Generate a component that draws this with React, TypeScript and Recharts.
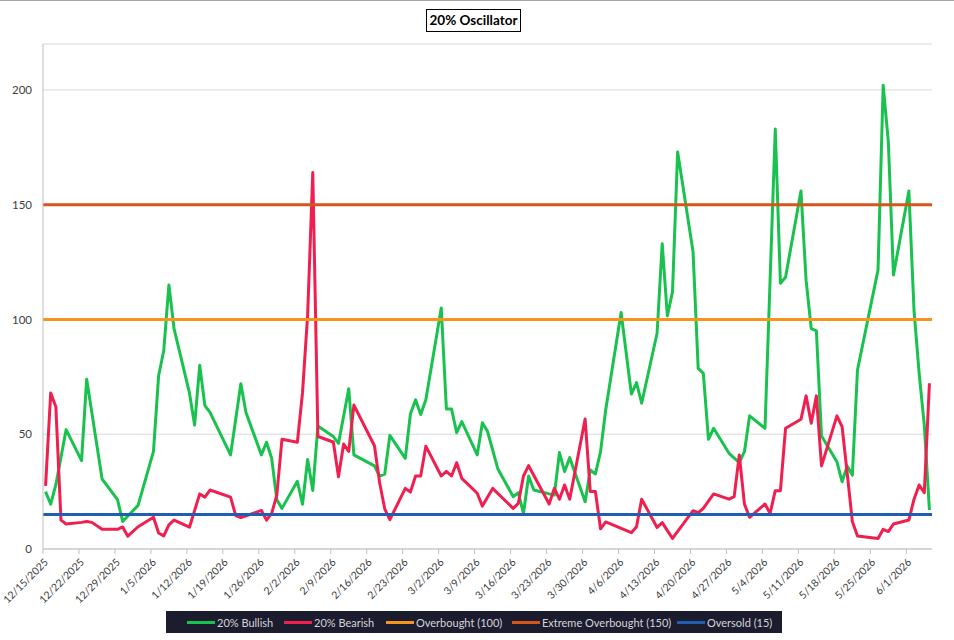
import React from "react";
import { LineChart, Line, XAxis, YAxis, CartesianGrid } from "recharts";

// readings of the two oscillator series (trading days with a visible vertex)
const bullishDates = [
  "12/15/2025", "12/16/2025", "12/17/2025", "12/19/2025", "12/22/2025", "12/23/2025", "12/26/2025",
  "12/29/2025", "12/30/2025", "1/2/2026", "1/5/2026", "1/6/2026", "1/7/2026", "1/8/2026", "1/9/2026",
  "1/12/2026", "1/13/2026", "1/14/2026", "1/15/2026", "1/16/2026", "1/20/2026", "1/22/2026", "1/23/2026",
  "1/26/2026", "1/27/2026", "1/28/2026", "1/29/2026", "1/30/2026", "2/2/2026", "2/3/2026", "2/4/2026",
  "2/5/2026", "2/6/2026", "2/9/2026", "2/10/2026", "2/12/2026", "2/13/2026", "2/17/2026", "2/18/2026",
  "2/19/2026", "2/20/2026", "2/23/2026", "2/24/2026", "2/25/2026", "2/26/2026", "2/27/2026", "3/2/2026",
  "3/3/2026", "3/4/2026", "3/5/2026", "3/6/2026", "3/9/2026", "3/10/2026", "3/11/2026", "3/13/2026",
  "3/16/2026", "3/17/2026", "3/18/2026", "3/19/2026", "3/20/2026", "3/23/2026", "3/24/2026", "3/25/2026",
  "3/26/2026", "3/27/2026", "3/30/2026", "3/31/2026", "4/1/2026", "4/2/2026", "4/3/2026", "4/6/2026",
  "4/8/2026", "4/9/2026", "4/10/2026", "4/13/2026", "4/14/2026", "4/15/2026", "4/16/2026", "4/17/2026",
  "4/20/2026", "4/21/2026", "4/22/2026", "4/23/2026", "4/24/2026", "4/27/2026", "4/29/2026", "4/30/2026",
  "5/1/2026", "5/4/2026", "5/6/2026", "5/7/2026", "5/8/2026", "5/11/2026", "5/12/2026", "5/13/2026",
  "5/14/2026", "5/15/2026", "5/18/2026", "5/19/2026", "5/20/2026", "5/21/2026", "5/22/2026", "5/26/2026",
  "5/27/2026", "5/28/2026", "5/29/2026", "6/1/2026", "6/2/2026", "6/3/2026", "6/4/2026", "6/5/2026",
];
const bullishValues = [
  25, 19.5, 28, 52, 38.5, 74, 30.5,
  21.5, 12, 19, 42.5, 75.5, 86.5, 115, 96,
  68, 54, 80, 62.5, 59.5, 41, 72, 59.5,
  41, 46.5, 39.5, 21.5, 17.7, 29.5, 19.5, 39,
  25.5, 53.6, 49, 46, 69.8, 41, 36.2, 31.8,
  32.6, 49.5, 39.5, 58.8, 65, 58.6, 65, 105,
  61, 61, 50.7, 55.5, 41, 55, 51.3, 35,
  22.8, 24.5, 15.5, 31.8, 25.7, 24, 23.5, 42,
  33.7, 39.8, 20.6, 34.4, 32.7, 42.4, 60.6, 103,
  67.5, 72.5, 63.5, 94, 133, 101.5, 112, 173,
  129.5, 78.7, 76.5, 47.8, 52.6, 41.7, 37.6, 42.4,
  58, 52.6, 183, 115.8, 118.4, 156, 117, 96,
  95, 49.2, 38, 29.3, 36.2, 32.2, 78, 121.6,
  202, 177.5, 119.4, 156, 104, 76.5, 54, 17,
];

const bearishDates = [
  "12/15/2025", "12/16/2025", "12/17/2025", "12/18/2025", "12/19/2025", "12/22/2025", "12/23/2025",
  "12/24/2025", "12/26/2025", "12/29/2025", "12/30/2025", "12/31/2025", "1/2/2026", "1/5/2026", "1/6/2026",
  "1/7/2026", "1/8/2026", "1/9/2026", "1/12/2026", "1/14/2026", "1/15/2026", "1/16/2026", "1/20/2026",
  "1/21/2026", "1/22/2026", "1/26/2026", "1/27/2026", "1/28/2026", "1/29/2026", "1/30/2026", "2/2/2026",
  "2/3/2026", "2/4/2026", "2/5/2026", "2/6/2026", "2/9/2026", "2/10/2026", "2/11/2026", "2/12/2026",
  "2/13/2026", "2/17/2026", "2/18/2026", "2/19/2026", "2/20/2026", "2/23/2026", "2/24/2026", "2/25/2026",
  "2/26/2026", "2/27/2026", "3/2/2026", "3/3/2026", "3/4/2026", "3/5/2026", "3/6/2026", "3/9/2026",
  "3/10/2026", "3/12/2026", "3/16/2026", "3/17/2026", "3/18/2026", "3/19/2026", "3/23/2026", "3/24/2026",
  "3/25/2026", "3/26/2026", "3/27/2026", "3/30/2026", "3/31/2026", "4/1/2026", "4/2/2026", "4/3/2026",
  "4/8/2026", "4/9/2026", "4/10/2026", "4/13/2026", "4/14/2026", "4/16/2026", "4/20/2026", "4/21/2026",
  "4/22/2026", "4/24/2026", "4/27/2026", "4/28/2026", "4/29/2026", "4/30/2026", "5/1/2026", "5/4/2026",
  "5/5/2026", "5/6/2026", "5/7/2026", "5/8/2026", "5/11/2026", "5/12/2026", "5/13/2026", "5/14/2026",
  "5/15/2026", "5/18/2026", "5/19/2026", "5/20/2026", "5/21/2026", "5/22/2026", "5/26/2026", "5/27/2026",
  "5/28/2026", "5/29/2026", "6/1/2026", "6/2/2026", "6/3/2026", "6/4/2026", "6/5/2026",
];
const bearishValues = [
  27.5, 68, 62, 12.6, 10.9, 11.6, 12,
  11.6, 8.6, 8.6, 9.6, 5.6, 9.7, 13.8, 7,
  5.7, 10.5, 12.6, 9.5, 24, 22.6, 25.7, 22.6,
  14.6, 13.7, 16.8, 12.6, 15.5, 23.5, 47.8, 46.5,
  68, 102, 164, 49, 46.6, 31.5, 45.7, 42.5,
  62.7, 45, 29, 17.5, 12.8, 26.4, 24.8, 31.8,
  31.8, 44.8, 31.8, 33.8, 31.8, 37.6, 30.8, 24.3,
  18.7, 26.4, 17.7, 19.9, 31.8, 36.3, 19.6, 26.4,
  21.7, 27.9, 21.7, 56.6, 25, 25, 8.8, 11.8,
  7.1, 9.7, 21.7, 9.4, 11.5, 4.6, 16.7, 15.8,
  17.7, 24, 21.7, 22.8, 41, 19.6, 13.8, 19.6,
  15.5, 25.4, 25.4, 52.6, 56.5, 66.7, 54.8, 66.7,
  36.2, 58, 53.3, 33, 12, 5.7, 4.6, 8.6,
  7.6, 10.9, 12.6, 21.7, 27.9, 24.5, 72.2,
];

const tickLabels = [
  "12/15/2025", "12/22/2025", "12/29/2025", "1/5/2026", "1/12/2026", "1/19/2026", "1/26/2026",
  "2/2/2026", "2/9/2026", "2/16/2026", "2/23/2026", "3/2/2026", "3/9/2026", "3/16/2026",
  "3/23/2026", "3/30/2026", "4/6/2026", "4/13/2026", "4/20/2026", "4/27/2026", "5/4/2026",
  "5/11/2026", "5/18/2026", "5/25/2026", "6/1/2026",
];
const yTicks = [0, 50, 100, 150, 200];

const OVERBOUGHT = 100;
const EXTREME = 150;
const OVERSOLD = 15;

const START = Date.UTC(2025, 11, 15);
const toDay = (s: string) => {
  const [m, d, y] = s.split("/").map(Number);
  return Math.round((Date.UTC(y, m - 1, d) - START) / 86400000);
};
const LAST_DAY = toDay("6/5/2026") + 1;

// each date sits in the middle of its day slot
const bullishData = bullishDates.map((d, i) => ({ x: toDay(d) + 0.5, v: bullishValues[i] }));
const bearishData = bearishDates.map((d, i) => ({ x: toDay(d) + 0.5, v: bearishValues[i] }));
const flat = (v: number) => [{ x: 0, v }, { x: LAST_DAY, v }];

const tickDays = tickLabels.map(toDay);
const labelFor = (day: number) => tickLabels[tickDays.indexOf(day)] ?? "";

const GREEN = "#19c24e";
const RED = "#ef1f4f";
const ORANGE = "#f7941d";
const DARK_ORANGE = "#d4561a";
const BLUE = "#1f5eb0";
const FONT = "Lato, 'Open Sans', sans-serif";

const DateTick = (props: any) => {
  const { x, y, payload } = props;
  const tx = x + 3;
  const ty = y + 4;
  return (
    <text
      x={tx}
      y={ty}
      transform={`rotate(-45, ${tx}, ${ty})`}
      textAnchor="end"
      dominantBaseline="central"
      fontSize={10.5}
      fontFamily={FONT}
      fill="#404040"
    >
      {labelFor(payload.value)}
    </text>
  );
};

const legendItems = [
  { name: "20% Bullish", color: GREEN, left: 187 },
  { name: "20% Bearish", color: RED, left: 284 },
  { name: "Overbought (100)", color: ORANGE, left: 386 },
  { name: "Extreme Overbought (150)", color: DARK_ORANGE, left: 512 },
  { name: "Oversold (15)", color: BLUE, left: 677 },
];

export default function App() {
  return (
    <div
      style={{
        position: "fixed",
        left: 0,
        top: 0,
        width: 954,
        height: 640,
        background: "#fff",
        borderTop: "1px solid #a6a6a6",
        boxSizing: "border-box",
        fontFamily: FONT,
      }}
    >
      <div
        style={{
          position: "absolute",
          left: 426,
          top: 8,
          width: 95,
          height: 23,
          border: "1px solid #000",
          boxSizing: "border-box",
          fontWeight: 700,
          fontSize: 13.5,
          lineHeight: "21px",
          textAlign: "center",
          color: "#000",
        }}
      >
        20% Oscillator
      </div>

      <div style={{ position: "absolute", left: 0, top: -1 }}>
        <LineChart width={954} height={640} margin={{ top: 44, right: 22, bottom: 31, left: 7 }}>
          <CartesianGrid vertical={false} stroke="#d9d9d9" />
          <XAxis
            type="number"
            dataKey="x"
            domain={[0, LAST_DAY]}
            ticks={tickDays}
            allowDataOverflow
            interval={0}
            height={60}
            stroke="#bfbfbf"
            tickSize={5}
            tick={<DateTick />}
          />
          <YAxis
            type="number"
            domain={[0, 220]}
            ticks={yTicks}
            width={36}
            stroke="#bfbfbf"
            tickLine={false}
            tickSize={6}
            tickMargin={5}
            tick={{ fontSize: 11.5, fill: "#404040", fontFamily: FONT }}
          />
          <Line data={bullishData} dataKey="v" type="linear" stroke={GREEN} strokeWidth={3} dot={false} isAnimationActive={false} strokeLinejoin="round" />
          <Line data={bearishData} dataKey="v" type="linear" stroke={RED} strokeWidth={3} dot={false} isAnimationActive={false} strokeLinejoin="round" />
          <Line data={flat(OVERBOUGHT)} dataKey="v" type="linear" stroke={ORANGE} strokeWidth={3} dot={false} isAnimationActive={false} />
          <Line data={flat(EXTREME)} dataKey="v" type="linear" stroke={DARK_ORANGE} strokeWidth={3} dot={false} isAnimationActive={false} />
          <Line data={flat(OVERSOLD)} dataKey="v" type="linear" stroke={BLUE} strokeWidth={3} dot={false} isAnimationActive={false} />
        </LineChart>
      </div>

      <div
        style={{
          position: "absolute",
          left: 166,
          top: 610,
          width: 616,
          height: 22,
          background: "#1c1c2f",
        }}
      >
        {legendItems.map((it) => (
          <div
            key={it.name}
            style={{
              position: "absolute",
              left: it.left - 166,
              top: 0,
              height: 22,
              display: "flex",
              alignItems: "center",
              fontSize: 11,
              color: "#d4d4d8",
              whiteSpace: "nowrap",
            }}
          >
            <span style={{ display: "inline-block", width: 28, height: 3, background: it.color, marginRight: 2 }} />
            {it.name}
          </div>
        ))}
      </div>
    </div>
  );
}
